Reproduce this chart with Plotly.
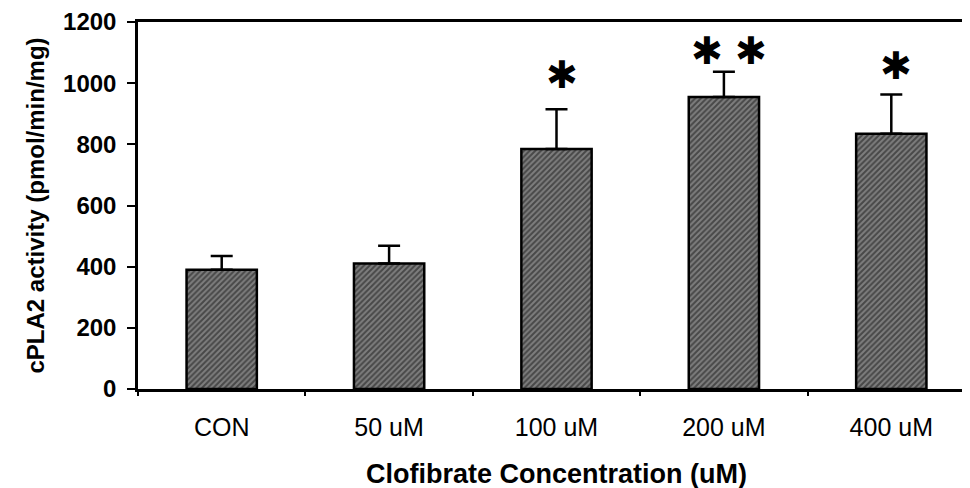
import plotly.graph_objects as go

categories = ["CON", "50 uM", "100 uM", "200 uM", "400 uM"]
activity = [390, 410, 785, 955, 835]
sem = [45, 58, 130, 82, 128]
stars = ["", "", "✱", "✱ ✱", "✱"]
star_y = [0, 0, 1027, 1104, 1056]
y_ticks = [0, 200, 400, 600, 800, 1000, 1200]

fig = go.Figure()
fig.add_trace(go.Bar(
    x=categories, y=activity,
    marker=dict(
        color="#5a5a5a",
        line=dict(color="black", width=2.5),
        pattern=dict(shape="/", fgcolor="#111111", bgcolor="#7e7e7e", size=4, solidity=0.5),
    ),
    error_y=dict(type="data", symmetric=False, array=sem, arrayminus=[0] * len(sem),
                 color="black", thickness=2.5, width=11),
    width=0.42,
))

for c, s, yv in zip(categories, stars, star_y):
    if s:
        fig.add_annotation(x=c, y=yv, text=s, showarrow=False, xshift=5,
                           font=dict(family="DejaVu Sans", size=38, color="black"))

fig.update_layout(
    width=970, height=488,
    margin=dict(l=130, r=3, t=14, b=107),
    plot_bgcolor="white", paper_bgcolor="white",
    showlegend=False,
    xaxis=dict(
        range=[-0.5, 4.5], automargin=False,
        showline=True, linecolor="black", linewidth=2.5, mirror=True,
        ticks="outside", tickson="boundaries", ticklen=4, tickcolor="black", tickwidth=1.5,
        ticklabelstandoff=14,
        tickfont=dict(family="Liberation Sans", size=25, color="black"),
        title=dict(text="<b>Clofibrate Concentration (uM)</b>",
                   font=dict(family="Liberation Sans", size=27, color="black"), standoff=25),
        showgrid=False,
    ),
    yaxis=dict(
        range=[0, 1200], automargin=False,
        tickvals=y_ticks,
        ticktext=[f"<b>{v}</b>" for v in y_ticks],
        showline=True, linecolor="black", linewidth=2.5,
        ticks="outside", ticklen=8, tickcolor="black", tickwidth=1.5,
        ticklabelstandoff=6,
        tickfont=dict(family="Liberation Sans", size=24, color="black"),
        title=dict(text="<b>cPLA2 activity (pmol/min/mg)</b>",
                   font=dict(family="Liberation Sans", size=24, color="black"), standoff=12),
        showgrid=False, zeroline=False,
    ),
)

fig.write_html("out.html")
